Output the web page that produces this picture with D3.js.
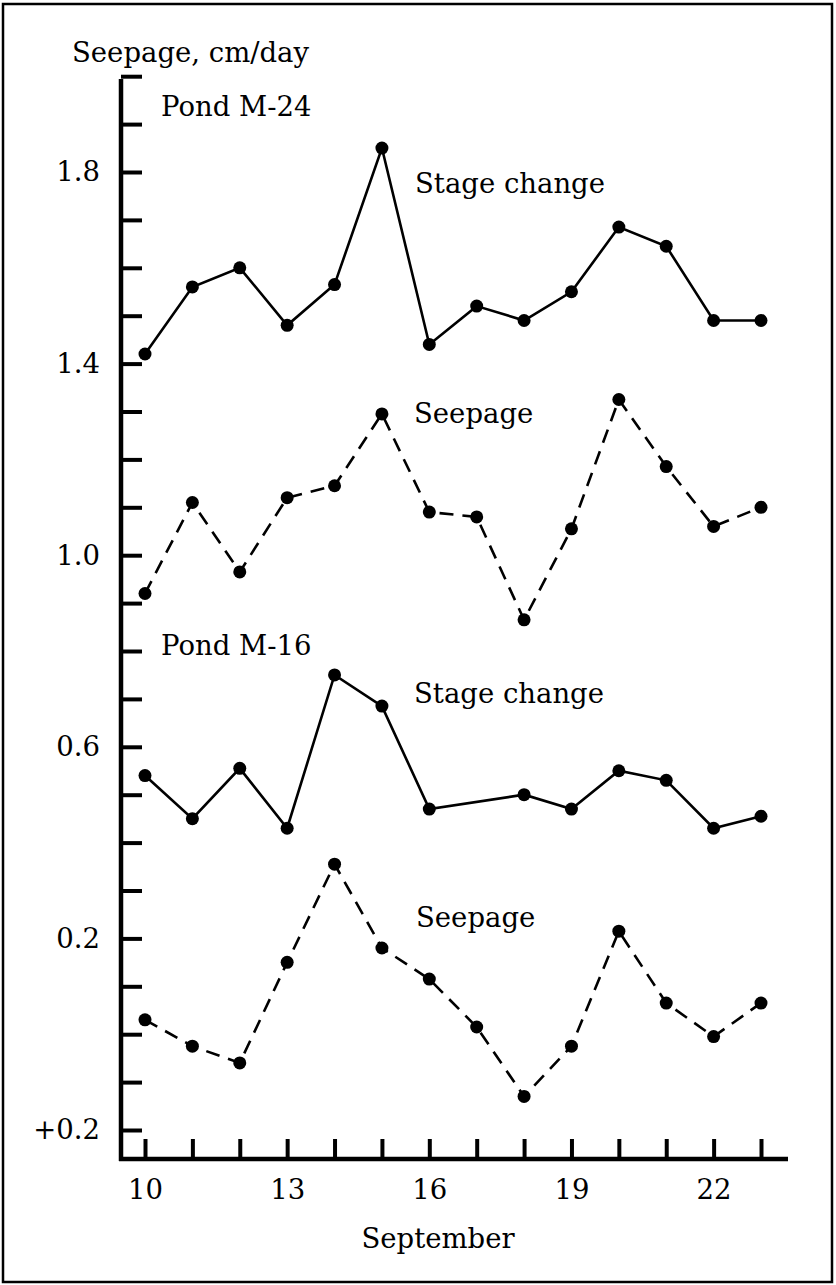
<!DOCTYPE html>
<html>
<head>
<meta charset="utf-8">
<script src="https://cdn.jsdelivr.net/npm/d3@7"></script>
<style>
  body { margin: 0; background: #fff; }
  svg text { font-family: "DejaVu Serif", serif; fill: #000; }
</style>
</head>
<body>
<svg id="chart" width="836" height="1285"></svg>
<script>
// days of September
const days = [10, 11, 12, 13, 14, 15, 16, 17, 18, 19, 20, 21, 22, 23]
const dayLabels = [10, 13, 16, 19, 22]

// Pond M-24
const m24Stage   = [1.42, 1.56, 1.60, 1.48, 1.565, 1.85, 1.44, 1.52, 1.49, 1.55, 1.685, 1.645, 1.49, 1.49]
const m24Seepage = [0.92, 1.11, 0.965, 1.12, 1.145, 1.295, 1.09, 1.08, 0.865, 1.055, 1.325, 1.185, 1.06, 1.10]

// Pond M-16 (no stage reading on the 17th)
const m16Stage   = [0.54, 0.45, 0.555, 0.43, 0.75, 0.685, 0.47, null, 0.50, 0.47, 0.55, 0.53, 0.43, 0.455]
const m16Seepage = [0.03, -0.025, -0.06, 0.15, 0.355, 0.18, 0.115, 0.015, -0.13, -0.025, 0.215, 0.065, -0.005, 0.065]

// y ticks every 0.1, some of them labelled
const yTickValues = d3.range(-2, 21).map(i => i / 10)
const yLabelValues = [1.8, 1.4, 1.0, 0.6, 0.2, -0.2]
const yLabelTexts  = ["1.8", "1.4", "1.0", "0.6", "0.2", "+0.2"]

const fontSize = 27.5

const svg = d3.select("#chart")

// frame round the whole figure
svg.append("rect")
  .attr("x", 3).attr("y", 4)
  .attr("width", 829).attr("height", 1278)
  .attr("fill", "none")
  .attr("stroke", "#000")
  .attr("stroke-width", 2.5)

const x = d3.scaleLinear().domain([10, 23]).range([145, 761])
const y = d3.scaleLinear().domain([-0.2, 1.8]).range([1130, 172])

const axisX = 121, axisY = 1159

// y axis, ticks pointing right
const yAxis = d3.axisLeft(y)
  .tickValues(yTickValues)
  .tickSizeInner(-21)
  .tickSizeOuter(0)
  .tickPadding(21)
  .tickFormat(d => {
    const i = yLabelValues.findIndex(v => Math.abs(v - d) < 1e-6)
    return i >= 0 ? yLabelTexts[i] : ""
  })

const gy = svg.append("g")
  .attr("transform", `translate(${axisX},0)`)
  .call(yAxis)
gy.select(".domain").remove()
gy.selectAll(".tick line").attr("stroke", "#000").attr("stroke-width", 4)
gy.selectAll(".tick text").attr("font-size", fontSize).attr("font-family", "DejaVu Serif")

// x axis, ticks pointing up
const xAxis = d3.axisBottom(x)
  .tickValues(days)
  .tickSizeInner(-20)
  .tickSizeOuter(0)
  .tickPadding(20)
  .tickFormat(d => dayLabels.includes(d) ? d : "")

const gx = svg.append("g")
  .attr("transform", `translate(0,${axisY})`)
  .call(xAxis)
gx.select(".domain").remove()
gx.selectAll(".tick line").attr("stroke", "#000").attr("stroke-width", 4)
gx.selectAll(".tick text").attr("font-size", fontSize).attr("font-family", "DejaVu Serif")

// axis lines
svg.append("line")
  .attr("x1", axisX).attr("x2", axisX)
  .attr("y1", 79).attr("y2", axisY + 2)
  .attr("stroke", "#000").attr("stroke-width", 4.5)
svg.append("line")
  .attr("x1", axisX - 2).attr("x2", 788)
  .attr("y1", axisY).attr("y2", axisY)
  .attr("stroke", "#000").attr("stroke-width", 4.5)

// series
const series = [
  { values: m24Stage, dash: null },
  { values: m24Seepage, dash: "14,9" },
  { values: m16Stage, dash: null },
  { values: m16Seepage, dash: "14,9" },
]

const line = d3.line()
  .x(d => x(d.day))
  .y(d => y(d.value))

series.forEach(s => {
  const pts = days
    .map((day, i) => ({ day, value: s.values[i] }))
    .filter(d => d.value !== null)

  svg.append("path")
    .datum(pts)
    .attr("d", line)
    .attr("fill", "none")
    .attr("stroke", "#000")
    .attr("stroke-width", 2.6)
    .attr("stroke-dasharray", s.dash)

  svg.append("g")
    .selectAll("circle")
    .data(pts)
    .join("circle")
    .attr("cx", d => x(d.day))
    .attr("cy", d => y(d.value))
    .attr("r", 6.5)
    .attr("fill", "#000")
})

// labels
const texts = [
  { t: "Seepage, cm/day", x: 72, y: 62 },
  { t: "Pond M-24", x: 161, y: 116 },
  { t: "Stage change", x: 415, y: 193 },
  { t: "Seepage", x: 414, y: 423 },
  { t: "Pond M-16", x: 161, y: 655 },
  { t: "Stage change", x: 414, y: 703 },
  { t: "Seepage", x: 416, y: 927 },
]
svg.append("g")
  .selectAll("text")
  .data(texts)
  .join("text")
  .attr("x", d => d.x)
  .attr("y", d => d.y)
  .attr("font-size", fontSize)
  .text(d => d.t)

svg.append("text")
  .attr("x", 438)
  .attr("y", 1248)
  .attr("text-anchor", "middle")
  .attr("font-size", fontSize)
  .text("September")
</script>
</body>
</html>
